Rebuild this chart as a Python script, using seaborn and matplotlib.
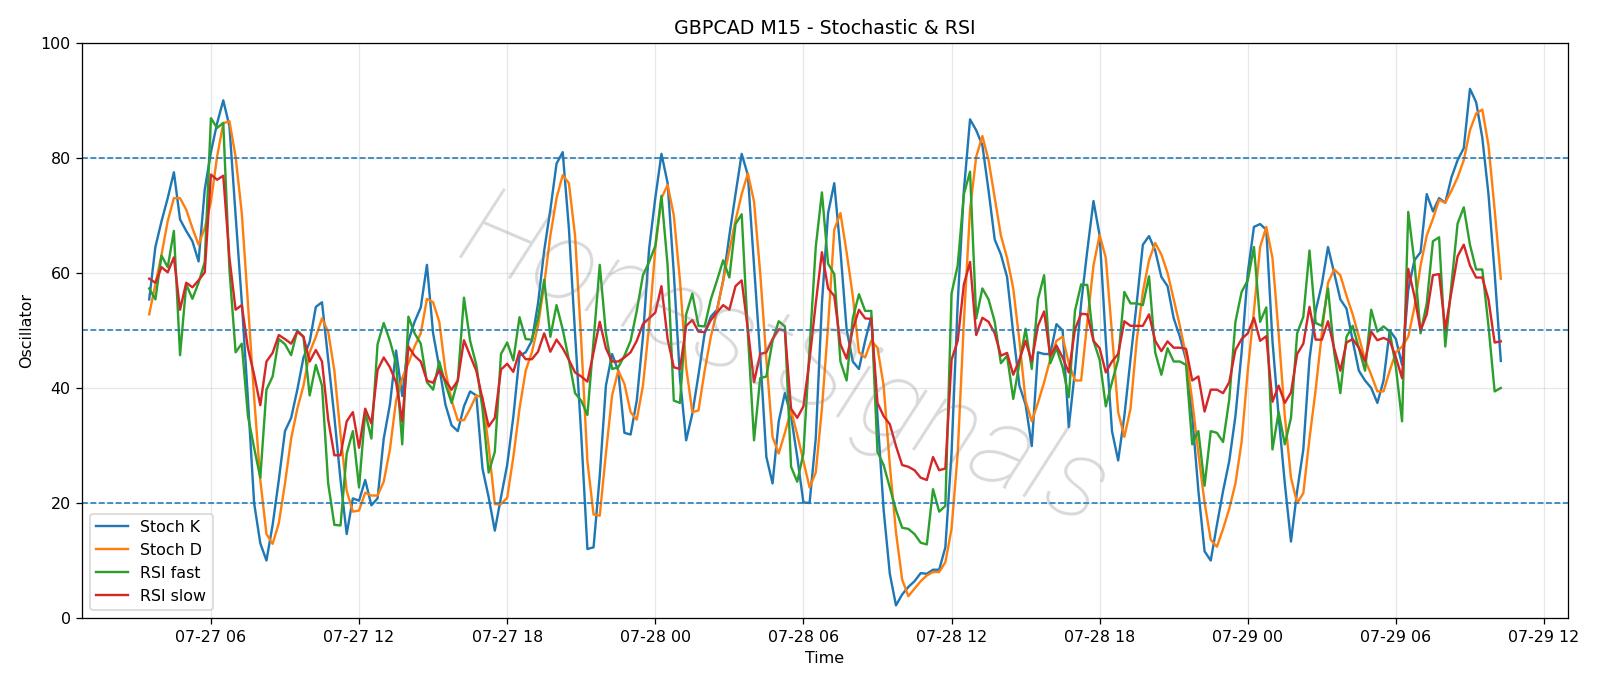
import pandas as pd
import matplotlib
matplotlib.use("Agg")
import matplotlib.pyplot as plt
import matplotlib.dates as mdates
import seaborn as sns

# 15 minute bars, 07-27 03:30 -> 07-29 10:15
start_time = "2025-07-27 03:30"
n_bars = 220

stoch_k = [
    55.4, 64.5, 69, 73, 77.5, 69.3, 67.3, 65.5, 62, 74.5,
    81, 86, 90, 85.5, 70, 55, 38, 20, 13, 10,
    16.2, 24, 32.5, 34.8, 39.7, 45.3, 48, 54.1, 54.9, 45,
    35, 24, 14.6, 20.8, 20.4, 24, 19.6, 20.8, 31.2, 37.1,
    46.5, 38.6, 48.2, 51.5, 54, 61.4, 49.5, 43.6, 37.1, 33.5,
    32.5, 36.8, 39.4, 38.7, 26, 21, 15.2, 21, 26.6, 35,
    45.6, 46.2, 48.2, 54.7, 63.9, 71, 79, 81, 67.8, 49.5,
    31.9, 12, 12.3, 24.7, 40.4, 45.9, 43, 32.2, 31.9, 37.8,
    48.9, 64.2, 73, 80.7, 75.6, 60, 41.7, 30.9, 35.5, 42.3,
    49.5, 52.4, 53.6, 58.7, 66.5, 73.7, 80.7, 77, 61.3, 45.6,
    28, 23.4, 34.2, 39.1, 35.1, 28, 20.1, 20, 31.2, 54.7,
    70.4, 75.6, 63.9, 50.2, 44.6, 43.3, 48.2, 52.4, 35.1, 18.8,
    7.7, 2.2, 4.1, 5.4, 6.4, 7.8, 7.7, 8.4, 8.4, 12.3,
    28.6, 54.7, 74.3, 86.7, 84.8, 82.2, 74.3, 65.8, 63.2, 59.3,
    49.5, 40.4, 37.1, 29.9, 46.2, 45.9, 45.9, 51.1, 50, 33.2,
    43, 54.7, 63.9, 72.5, 66.5, 48.2, 32.5, 27.4, 35.1, 45,
    54.7, 64.9, 66.4, 63.9, 59.3, 57.7, 52.1, 48.9, 44.9, 35.1,
    22.1, 11.6, 10, 16.2, 22.1, 27.3, 35.1, 46.2, 60, 68,
    68.5, 67.5, 48.2, 35.1, 23.4, 13.3, 22.1, 29.3, 45, 53.4,
    58, 64.5, 60, 55.4, 53.8, 48.2, 43, 41.3, 40, 37.4,
    41.3, 50, 48.5, 44, 57, 62.2, 63.6, 73.7, 70.7, 73,
    72.2, 76.6, 79.6, 81.7, 92, 89.7, 83.5, 73.7, 60, 44.7,
]

stoch_d = [
    52.8, 58, 63.2, 69, 73, 73, 71, 67.8, 64.9, 67.8,
    72.4, 80.2, 86, 86.4, 80.2, 70.4, 54.7, 38.4, 24, 14.6,
    12.9, 16.5, 23.4, 31.2, 36.4, 40.4, 46.2, 48.9, 52.1, 49.8,
    43, 31.9, 22.1, 18.5, 18.7, 21.8, 21.3, 21.3, 23.7, 29.3,
    37.8, 41.7, 44.3, 47.2, 49.5, 55.5, 54.9, 51.5, 43, 37.8,
    34.4, 34.4, 36.4, 38.7, 38.4, 29.9, 19.8, 19.8, 20.9, 28,
    36.4, 43, 46.2, 50.8, 58, 66.5, 73, 77, 75.6, 66.5,
    48.2, 27.3, 18, 17.8, 28.6, 38.7, 43, 40.7, 35.8, 34.5,
    40.4, 50.8, 64.2, 73, 75.3, 70, 58.7, 43.6, 35.8, 36.1,
    43, 48.9, 53.4, 58.7, 63.9, 69.1, 73.7, 77.3, 72.4, 60,
    44.9, 31.5, 28.6, 32.2, 36.1, 31.9, 27.3, 22.7, 25.3, 36.4,
    50.8, 67.5, 70.4, 63.6, 56, 46.2, 45.3, 48.2, 47, 40.4,
    26.6, 14.9, 6.7, 3.8, 5.1, 6.4, 7.4, 8, 8, 9.7,
    15.5, 28.6, 51.5, 71, 80.2, 83.8, 79.6, 73, 66.5, 62.6,
    57.3, 48.2, 37.8, 34.2, 37.4, 41, 45, 48.2, 48.9, 44.3,
    41.3, 41.3, 51.5, 61.3, 66.6, 62.6, 49.5, 35.8, 31.5, 36.4,
    48.2, 56.7, 62.2, 65.2, 63.2, 60, 55.4, 50.8, 45.6, 37.8,
    28.6, 20.1, 13.6, 12.4, 15.5, 19, 23.4, 30.6, 43, 53.4,
    64.5, 68, 62.6, 49.5, 35.1, 24.4, 20, 21.7, 31.2, 39.7,
    49.5, 58.3, 60.6, 59.6, 56, 52.8, 48.9, 44.9, 42.3, 39.4,
    39.4, 43, 46.2, 47.2, 48.9, 54, 61.3, 66.5, 69.4, 72.7,
    72.2, 74.3, 76.6, 79.6, 84.8, 87.7, 88.4, 82.2, 71, 59,
]

rsi_fast = [
    57.3, 55.4, 63, 61, 67.3, 45.7, 58, 55.5, 58.3, 61.9,
    86.9, 85.2, 86.1, 60.6, 46.2, 47.7, 35.1, 29.6, 24.4, 39.7,
    42, 48.5, 47.6, 45.7, 50, 48.9, 38.7, 44, 40.4, 23.4,
    16.2, 16.1, 28.6, 32.5, 22.7, 35.8, 31.2, 47.6, 51.3, 48.2,
    44.3, 30.2, 52.4, 49.5, 47.7, 41, 39.7, 44.6, 40.7, 37.4,
    41.3, 55.7, 48.2, 44, 36.4, 25.3, 28.9, 45.9, 47.9, 44.8,
    52.3, 48.5, 48.4, 52.2, 58.8, 48.9, 54.4, 50.2, 44.9, 39.1,
    37.8, 35.3, 48.2, 61.4, 49.5, 43.3, 43.6, 45.6, 48.2, 53.4,
    59.6, 61.9, 64.7, 73.4, 61.3, 37.8, 37.4, 52.8, 56.4, 50.8,
    50.7, 55.4, 58.7, 62.2, 59.2, 68.5, 70.2, 49.5, 30.9, 41.7,
    42, 48.2, 51.6, 50.7, 26.3, 23.7, 28.6, 46.9, 64.5, 74,
    61.6, 59.8, 44.6, 41.3, 52.1, 56.3, 53.4, 53.4, 28.9, 26.6,
    22.7, 18.8, 15.7, 15.5, 14.6, 13.1, 12.8, 22.4, 18.5, 19.5,
    56.4, 61.3, 73.7, 77.6, 52.1, 57.3, 55.4, 51.5, 44.3, 45.6,
    38.1, 44.3, 50.3, 43.3, 55.4, 59.6, 44.3, 46.9, 43.6, 38.4,
    53.4, 58, 57.9, 48.2, 44.9, 36.8, 41, 44.9, 56.7, 54.7,
    54.7, 54.4, 59.4, 46.2, 42.3, 46.9, 44.6, 44.6, 44, 30.2,
    32.5, 23, 32.5, 32.2, 30.6, 38, 51.5, 56.7, 58.7, 64.5,
    51.5, 54, 29.3, 35.8, 30.2, 34.8, 49.5, 52.4, 63.9, 51.3,
    50.8, 57.3, 46.2, 39.1, 48.9, 50.8, 46.9, 43, 53.6, 49.8,
    50.7, 49.8, 43.6, 34.2, 70.6, 61.9, 49.5, 54.7, 65.5, 66.2,
    47.2, 58, 68.6, 71.4, 64.9, 60.6, 60.6, 50.8, 39.4, 40,
]

rsi_slow = [
    59, 58.3, 61, 60.1, 62.7, 53.6, 58.3, 57.5, 58.7, 60.1,
    77.1, 76.2, 76.9, 62.6, 53.6, 54.4, 46.9, 42.3, 37, 44.6,
    46.1, 49.2, 48.5, 47.7, 49.8, 48.9, 44.6, 46.6, 44.6, 34.5,
    28.3, 28.3, 34.2, 35.8, 29.6, 36.4, 33.8, 43.1, 45.3, 43.6,
    41, 34.2, 47.2, 45.6, 44.6, 41.3, 40.9, 43.1, 41.3, 39.7,
    41.3, 48.3, 45.6, 43, 38.1, 33.3, 34.8, 43.2, 44.2, 42.8,
    46.4, 45, 45, 46.3, 49.5, 46.3, 48.4, 46.9, 44.9, 42.7,
    42, 41.1, 46.2, 51.5, 46.9, 44.6, 44.6, 45.3, 46.2, 48.2,
    51.1, 52.1, 53.1, 57.7, 48.5, 43.6, 43.3, 50.8, 51.8, 49.8,
    49.7, 51.8, 53.1, 54.4, 53.6, 57.7, 58.7, 50.2, 41, 45.9,
    46.2, 48.5, 50.2, 50, 36.4, 34.8, 36.8, 44.9, 54.7, 63.6,
    57.3, 56, 47.6, 45.1, 50.2, 53.6, 52.1, 52, 37.4, 35.1,
    33.7, 29.9, 26.6, 26.3, 25.7, 24.4, 24, 28, 25.7, 26,
    44.9, 48.2, 58, 61.9, 49.2, 52.2, 51.5, 49.5, 45.6, 46.1,
    42.3, 44.9, 48.2, 44.6, 50.8, 53.3, 45.6, 47.4, 45.3, 42.7,
    50.2, 52.9, 52.8, 48.2, 46.9, 42.7, 44.6, 45.9, 51.6, 50.8,
    50.8, 50.8, 52.8, 48.2, 46.4, 48.1, 47, 47, 46.8, 41.3,
    42, 35.9, 39.7, 39.7, 39.1, 41, 46.6, 48.5, 49.5, 52.2,
    48.2, 49, 37.6, 40.4, 37.4, 39.2, 45.9, 47.7, 54.1, 48.4,
    48.4, 51.6, 46.9, 43, 47.9, 48.5, 47, 44.6, 49.8, 48.3,
    48.7, 48.2, 45.3, 41.7, 60.7, 56, 50, 52.8, 59.6, 59.8,
    50.2, 56.7, 62.9, 64.9, 61.3, 59.2, 59.2, 55.4, 47.9, 48.1,
]

levels = [20, 50, 80]

times = pd.date_range(start_time, periods=n_bars, freq="15min")
df = pd.DataFrame({
    "time": times,
    "Stoch K": stoch_k,
    "Stoch D": stoch_d,
    "RSI fast": rsi_fast,
    "RSI slow": rsi_slow,
})

dpi = 114.3
fig, ax = plt.subplots(figsize=(1600.4 / dpi, 686.4 / dpi), dpi=dpi)

colors = ["C0", "C1", "C2", "C3"]
for col, c in zip(["Stoch K", "Stoch D", "RSI fast", "RSI slow"], colors):
    sns.lineplot(data=df, x="time", y=col, ax=ax, color=c, linewidth=1.5, label=col)

for lv in levels:
    ax.axhline(lv, color="C0", linestyle="--", linewidth=1)

ax.set_ylim(0, 100)
ax.set_title("GBPCAD M15 - Stochastic & RSI")
ax.set_xlabel("Time")
ax.set_ylabel("Oscillator")
ax.xaxis.set_major_locator(mdates.HourLocator(byhour=[0, 6, 12, 18]))
ax.xaxis.set_major_formatter(mdates.DateFormatter("%m-%d %H"))
ax.grid(True, alpha=0.3)
ax.legend(loc="lower left")

# watermark, thin italic
fig.text(0.49, 0.47, "HonestSignals", fontsize=72, color="gray", alpha=0.3,
         rotation=-23, ha="center", va="center", style="italic",
         fontweight=200, family=["Roboto", "DejaVu Sans"])

plt.subplots_adjust(left=0.051, right=0.98, top=0.937, bottom=0.099)
fig.savefig("out.png", dpi=dpi)
